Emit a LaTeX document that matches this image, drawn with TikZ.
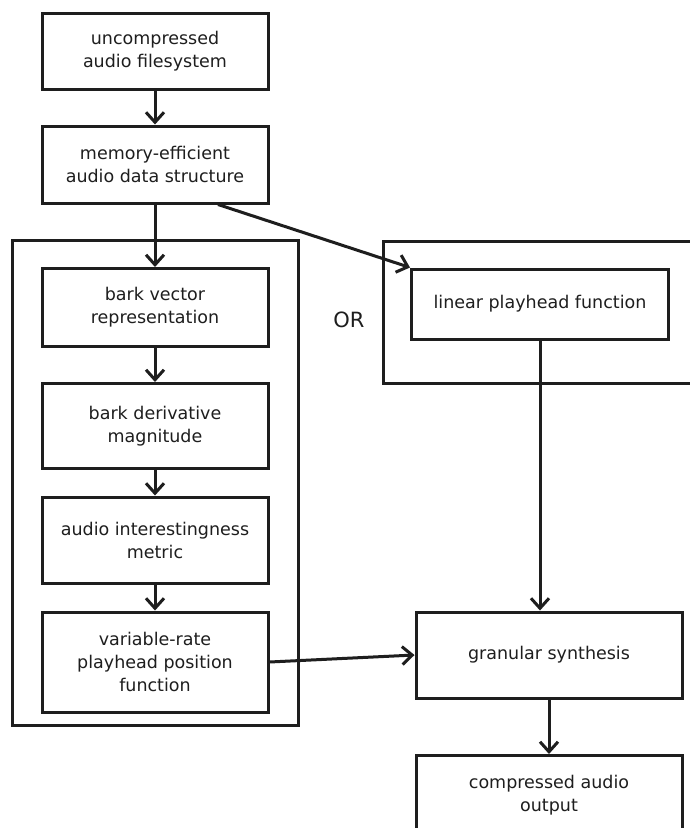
\documentclass[tikz,border=0pt]{standalone}
\usepackage{fontspec}
\setmainfont{DejaVu Sans}
\usetikzlibrary{arrows.meta,calc}
\definecolor{ink}{HTML}{1E1E1E}
\begin{document}
\begin{tikzpicture}[x=1pt,y=-1pt,
  box/.style={draw=ink, line width=3pt, align=center, text=ink, inner sep=0pt,
    font=\fontsize{17.5}{23}\selectfont},
  frame/.style={draw=ink, line width=3pt},
  arr/.style={draw=ink, line width=3pt, -{Straight Barb[length=10pt,width=18pt]}}]
\useasboundingbox (0,0) rectangle (689,828);
\fill[white] (0,0) rectangle (689,828);
% group frames
\draw[frame] (12,240) rectangle (298,725);
\draw[frame] (383,241) rectangle (700,383);
% nodes
\node[box, minimum width=226pt, minimum height=76pt] (fs) at (155,51) {uncompressed\\audio filesystem};
\node[box, minimum width=226pt, minimum height=77pt] (mem) at (155,164.5) {memory-efficient\\audio data structure};
\node[box, minimum width=226pt, minimum height=78pt] (bark) at (155,307.5) {bark vector\\representation};
\node[box, minimum width=226pt, minimum height=85pt] (deriv) at (155,426) {bark derivative\\magnitude};
\node[box, minimum width=226pt, minimum height=86pt] (inter) at (155,540) {audio interestingness\\metric};
\node[box, minimum width=226pt, minimum height=100pt] (var) at (155,662) {variable-rate\\playhead position\\function};
\node[box, minimum width=257pt, minimum height=70pt] (lin) at (540,304) {linear playhead function};
\node[box, minimum width=266pt, minimum height=86pt] (gran) at (549,655) {granular synthesis};
\node[box, minimum width=266pt, minimum height=80pt, anchor=north] (out) at (549,754) {compressed audio\\output};
\node[text=ink, font=\fontsize{21}{24}\selectfont] (or) at (349,320) {OR};
% connectors
\draw[arr] (fs.south) -- (mem.north);
\draw[arr] (mem.south) -- (bark.north);
\draw[arr] (bark.south) -- (deriv.north);
\draw[arr] (deriv.south) -- (inter.north);
\draw[arr] (inter.south) -- (var.north);
\draw[arr] ($(mem.south)!0.55!(mem.south east)$) -- (lin.north west);
\draw[arr] (lin.south) -- (lin.south |- gran.north);
\draw[arr] (var.east) -- (gran.west);
\draw[arr] (gran.south) -- (out.north);
\end{tikzpicture}
\end{document}
